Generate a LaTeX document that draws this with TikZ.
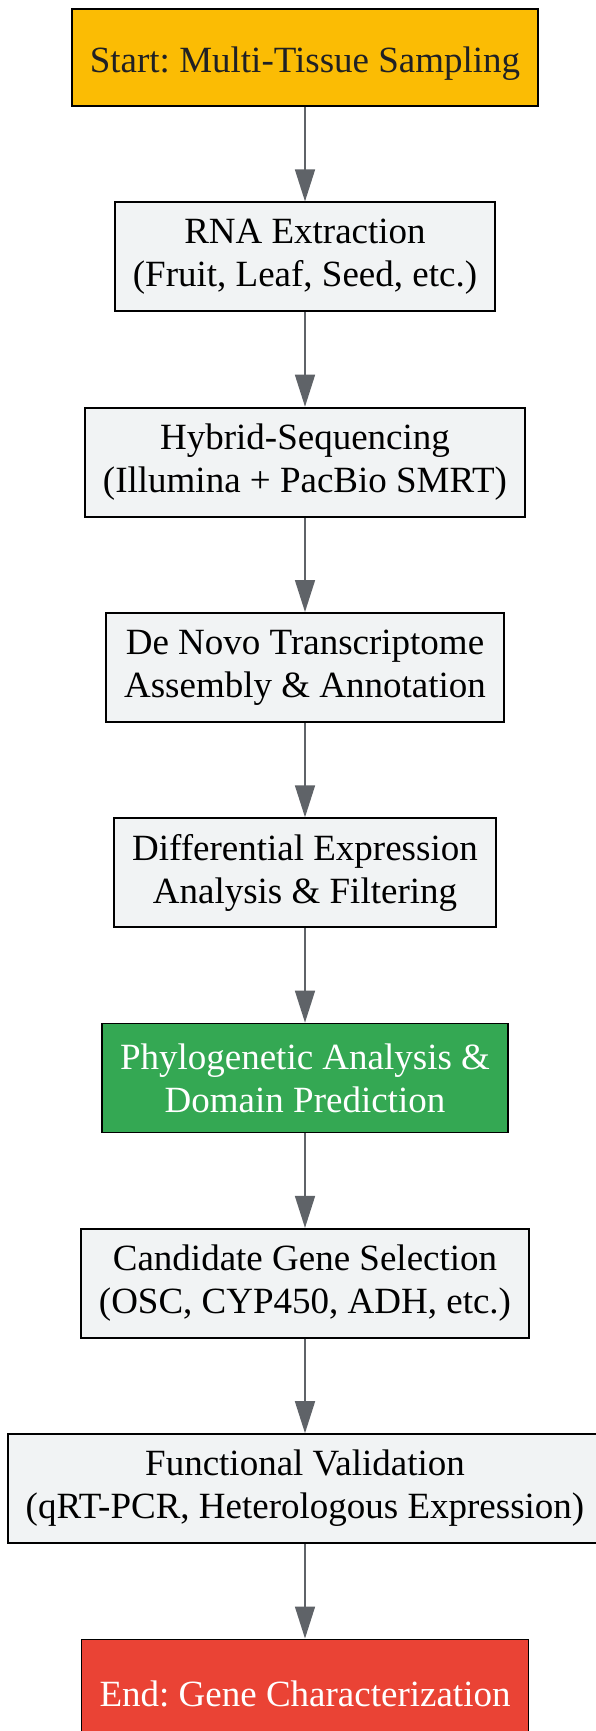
\documentclass[tikz,border=0pt]{standalone}
\usepackage{fontspec}
\setmainfont{Liberation Serif}
\usepackage{xcolor}
\usetikzlibrary{arrows.meta,positioning}
\definecolor{startyellow}{HTML}{FBBC04}
\definecolor{stagegray}{HTML}{F1F3F4}
\definecolor{phylogreen}{HTML}{34A853}
\definecolor{endred}{HTML}{EA4335}
\definecolor{arrowgray}{HTML}{5F6368}
\definecolor{darktext}{HTML}{202124}
\frenchspacing

\begin{document}
\begin{tikzpicture}[x=1pt, y=1pt,
    node distance=94.5pt,
    stage/.style={draw=black, line width=1.8pt, fill=stagegray, align=center,
        font=\fontsize{37}{43}\selectfont, inner xsep=18pt, minimum height=109pt,
        execute at begin node={\rule{0pt}{38pt}}},
    flow/.style={draw=arrowgray, line width=1.6pt, -{Triangle[length=32pt, width=20pt]}}]
    % Page frame
    \useasboundingbox[fill=white] (0,0) rectangle (596,-1731);

    % Pipeline stages
    \node[stage, fill=startyellow, text=darktext, minimum height=97pt] (start) at (305,-57.5) {Start: Multi-Tissue Sampling};
    \node[stage, below=of start] (rna) {RNA Extraction\\(Fruit, Leaf, Seed, etc.)};
    \node[stage, below=of rna] (seq) {Hybrid-Sequencing\\(Illumina + PacBio SMRT)};
    \node[stage, below=of seq] (assembly) {De Novo Transcriptome\\Assembly \& Annotation};
    \node[stage, below=of assembly] (diffexp) {Differential Expression\\Analysis \& Filtering};
    \node[stage, fill=phylogreen, text=white, below=of diffexp] (phylo) {Phylogenetic Analysis \&\\Domain Prediction};
    \node[stage, below=of phylo] (candidate) {Candidate Gene Selection\\(OSC, CYP450, ADH, etc.)};
    \node[stage, below=of candidate] (validation) {Functional Validation\\(qRT-PCR, Heterologous Expression)};
    \node[stage, fill=endred, text=white, minimum height=97pt, below=of validation] (finish) {End: Gene Characterization};

    % Connectors
    \foreach \a/\b in {start/rna, rna/seq, seq/assembly, assembly/diffexp,
        diffexp/phylo, phylo/candidate, candidate/validation, validation/finish}
        \draw[flow] (\a) -- (\b);
\end{tikzpicture}
\end{document}
